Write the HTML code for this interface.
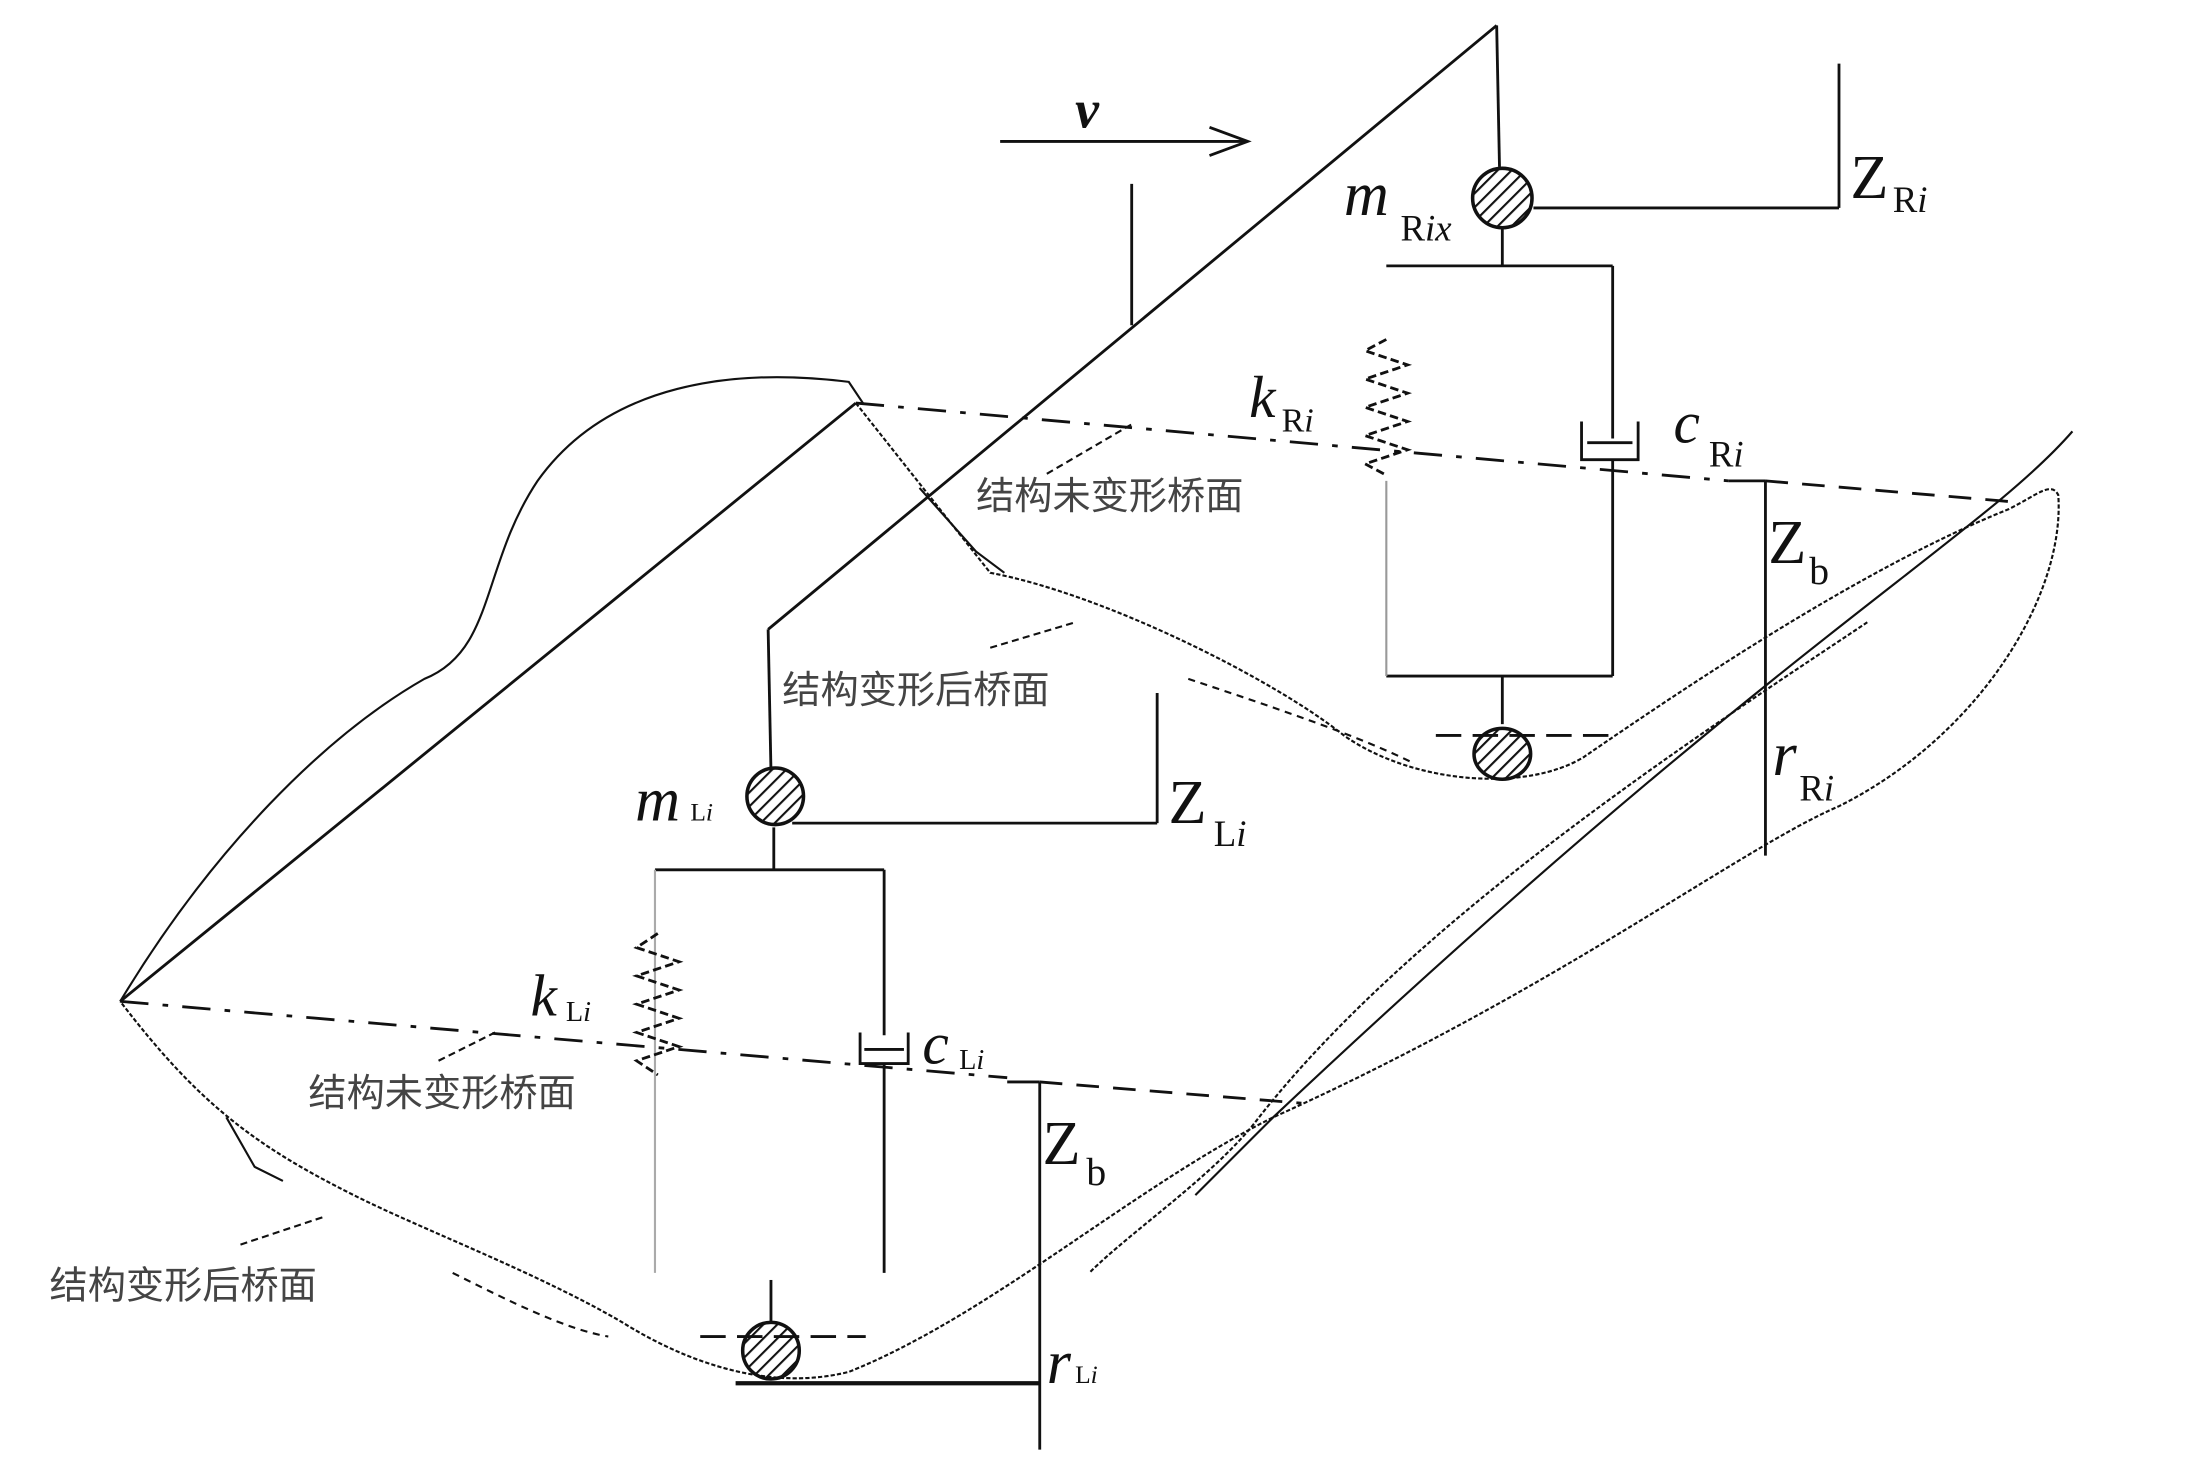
<!DOCTYPE html>
<html><head><meta charset="utf-8"><style>
html,body{margin:0;padding:0;background:#fff;width:2187px;height:1461px;overflow:hidden}
svg{display:block}
.t{font-family:"Liberation Serif",serif;fill:#111}
.c{font-family:"Liberation Sans","Noto Sans CJK SC",sans-serif;fill:#444;font-size:27px}
</style></head><body>
<svg width="2187" height="1461" viewBox="0 0 1546 1033" preserveAspectRatio="none" xmlns="http://www.w3.org/2000/svg">
<defs>
<pattern id="h" width="7" height="7" patternUnits="userSpaceOnUse" patternTransform="rotate(45)">
<line x1="0" y1="0" x2="0" y2="7" stroke="#111" stroke-width="3"/></pattern>
</defs>
<g fill="none" stroke="#111" stroke-width="2">
<!-- v arrow -->
<line x1="707" y1="100" x2="880" y2="100"/>
<polyline points="855,90 882,100 855,110"/>
<!-- diagonals -->
<line x1="85" y1="708" x2="605" y2="285"/>
<line x1="543" y1="445" x2="1058" y2="18"/>
<line x1="543" y1="445" x2="545" y2="545"/>
<line x1="800" y1="130" x2="800" y2="230"/>
<!-- right unit -->
<line x1="1058" y1="18" x2="1060" y2="118"/>
<line x1="1062" y1="162" x2="1062" y2="188"/>
<line x1="980" y1="188" x2="1140" y2="188"/>
<line x1="1140" y1="188" x2="1140" y2="310"/>
<path d="M1118 298 V325 H1158 V298"/>
<line x1="1122" y1="313" x2="1154" y2="313"/>
<line x1="1140" y1="325" x2="1140" y2="478"/>
<line x1="980" y1="478" x2="1140" y2="478"/>
<line x1="1062" y1="478" x2="1062" y2="512"/>
<line x1="980" y1="340" x2="980" y2="478" stroke="#999" stroke-width="1.5"/>
<polyline points="980,240 965,248 995,258 965,268 995,278 965,288 995,298 965,308 995,318 965,328 980,336" stroke-dasharray="6,3"/>
<line x1="1084" y1="147" x2="1300" y2="147"/>
<line x1="1300" y1="45" x2="1300" y2="147"/>
<line x1="1248" y1="340" x2="1248" y2="605"/>
<line x1="1222" y1="340" x2="1248" y2="340"/>
<!-- left unit -->
<line x1="547" y1="585" x2="547" y2="615"/>
<line x1="463" y1="615" x2="625" y2="615"/>
<line x1="463" y1="615" x2="463" y2="900" stroke="#aaa" stroke-width="1.5"/>
<polyline points="465,660 450,670 480,680 450,690 480,700 450,710 480,720 450,730 480,740 450,750 465,760" stroke-dasharray="6,3"/>
<line x1="625" y1="615" x2="625" y2="732"/>
<path d="M608 730 V752 H642 V730"/>
<line x1="611" y1="742" x2="639" y2="742"/>
<line x1="625" y1="752" x2="625" y2="900"/>
<line x1="545" y1="905" x2="545" y2="935"/>
<line x1="560" y1="582" x2="818" y2="582"/>
<line x1="818" y1="490" x2="818" y2="582"/>
<line x1="735" y1="765" x2="735" y2="1025"/>
<line x1="712" y1="765" x2="735" y2="765"/>
<line x1="520" y1="978" x2="735" y2="978" stroke-width="3"/>
<!-- dashed lines -->
<path d="M605 285 L1222 340" stroke-dasharray="20,10,4,10"/>
<path d="M1248 340 L1425 355" stroke-dasharray="16,10"/>
<path d="M85 708 L712 762" stroke-dasharray="20,10,4,10"/>
<path d="M735 765 L920 780" stroke-dasharray="16,10"/>
<path d="M1015 520 H1140" stroke-dasharray="18,8"/>
<path d="M495 945 H612" stroke-dasharray="18,8"/>
<!-- curves -->
<path d="M85 708 C150 600 230 520 300 480 C350 460 340 400 380 340 C430 270 520 260 600 270 L610 285" stroke-width="1.5"/>
<path d="M605 285 L700 405 C780 420 900 480 950 520 C1000 555 1080 560 1120 535 C1200 480 1320 400 1420 360 C1440 350 1450 340 1455 350 C1460 420 1400 520 1300 570 C1230 600 1100 700 900 790 C800 840 700 930 600 970 C540 985 480 960 440 935 C380 900 300 870 250 845 C180 810 140 780 85 708" stroke-width="1.5" stroke-dasharray="3,1.5"/>
<path d="M1465 305 C1400 380 1250 460 900 790 C880 810 860 830 845 845" stroke-width="1.5"/>
<path d="M1320 440 C1200 520 1000 650 890 790 C860 830 800 870 770 900" stroke-width="1.5" stroke-dasharray="3,1.5"/>
<path d="M840 480 C900 500 960 520 1000 540" stroke-width="1.5" stroke-dasharray="5,4"/>
<path d="M320 900 C360 920 400 940 430 945" stroke-width="1.5" stroke-dasharray="5,4"/>
<path d="M650 345 L690 390 L710 405" stroke-width="1.5"/>
<path d="M160 790 L180 825 L200 835" stroke-width="1.5"/>
<!-- small arrows -->
<line x1="740" y1="335" x2="800" y2="300" stroke-width="1.5" stroke-dasharray="5,3"/>
<line x1="700" y1="458" x2="760" y2="440" stroke-width="1.5" stroke-dasharray="5,3"/>
<line x1="310" y1="750" x2="350" y2="730" stroke-width="1.5" stroke-dasharray="5,3"/>
<line x1="170" y1="880" x2="230" y2="860" stroke-width="1.5" stroke-dasharray="5,3"/>
</g>
<!-- masses -->
<g stroke="#111" stroke-width="2.5" fill="url(#h)">
<circle cx="1062" cy="140" r="21"/>
<circle cx="548" cy="563" r="20"/>
<ellipse cx="1062" cy="533" rx="20" ry="18"/>
<ellipse cx="545" cy="955" rx="20" ry="20"/>
</g>
<!-- labels -->
<text class="t" x="760" y="90" font-size="38" font-style="italic" font-weight="bold">v</text>
<text class="t" x="950" y="152" font-size="44" font-style="italic">m</text>
<text class="t" x="990" y="170" font-size="26">R<tspan font-style="italic">ix</tspan></text>
<text class="t" x="1308" y="140" font-size="44">Z</text>
<text class="t" x="1338" y="150" font-size="26">R<tspan font-style="italic">i</tspan></text>
<text class="t" x="883" y="295" font-size="42" font-style="italic">k</text>
<text class="t" x="906" y="305" font-size="24">R<tspan font-style="italic">i</tspan></text>
<text class="t" x="1183" y="313" font-size="42" font-style="italic">c</text>
<text class="t" x="1208" y="330" font-size="26">R<tspan font-style="italic">i</tspan></text>
<text class="t" x="1250" y="398" font-size="44">Z</text>
<text class="t" x="1279" y="413" font-size="28">b</text>
<text class="t" x="1253" y="548" font-size="44" font-style="italic">r</text>
<text class="t" x="1272" y="566" font-size="26">R<tspan font-style="italic">i</tspan></text>
<text class="t" x="449" y="580" font-size="44" font-style="italic">m</text>
<text class="t" x="488" y="580" font-size="18">L<tspan font-style="italic">i</tspan></text>
<text class="t" x="826" y="582" font-size="44">Z</text>
<text class="t" x="858" y="598" font-size="26">L<tspan font-style="italic">i</tspan></text>
<text class="t" x="375" y="718" font-size="42" font-style="italic">k</text>
<text class="t" x="400" y="722" font-size="20">L<tspan font-style="italic">i</tspan></text>
<text class="t" x="652" y="752" font-size="42" font-style="italic">c</text>
<text class="t" x="678" y="756" font-size="20">L<tspan font-style="italic">i</tspan></text>
<text class="t" x="737" y="823" font-size="44">Z</text>
<text class="t" x="768" y="838" font-size="28">b</text>
<text class="t" x="740" y="978" font-size="44" font-style="italic">r</text>
<text class="t" x="760" y="978" font-size="18">L<tspan font-style="italic">i</tspan></text>
<text class="c" x="690" y="360">结构未变形桥面</text>
<text class="c" x="553" y="497">结构变形后桥面</text>
<text class="c" x="218" y="782">结构未变形桥面</text>
<text class="c" x="35" y="918">结构变形后桥面</text>
</svg>
</body></html>
